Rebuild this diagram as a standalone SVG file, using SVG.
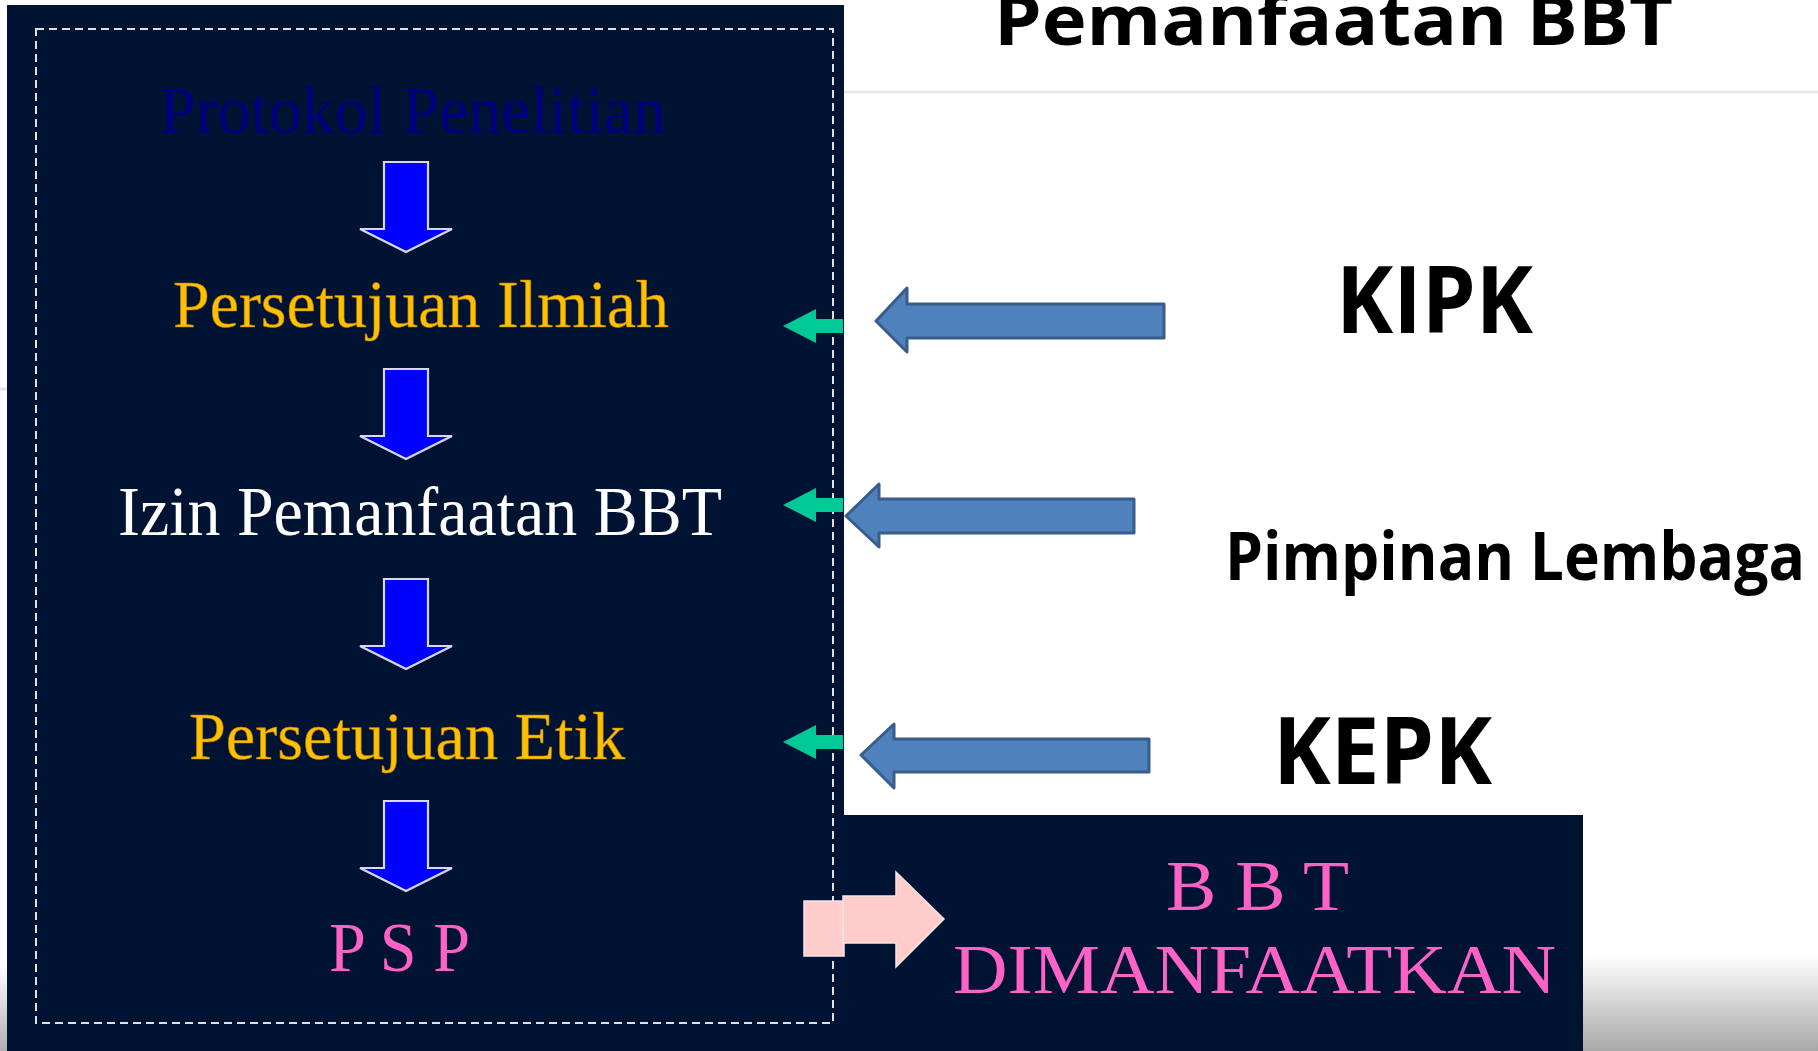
<svg xmlns="http://www.w3.org/2000/svg" width="1818" height="1051" viewBox="0 0 1818 1051">
<defs>
<style>
.serif{font-family:"Liberation Serif","Times New Roman",serif;}
.sans{font-family:"Open Sans","Noto Sans","Liberation Sans",sans-serif;font-weight:bold;fill:#000;}
.gold{fill:#ffc000;stroke:#b07800;stroke-width:0.6;}
.white{fill:#ffffff;}
.pink{fill:#ff62c6;}
.navytxt{fill:#00007e;}
.down{fill:#0000ff;stroke:#d8d8e8;stroke-width:2.2;stroke-linejoin:miter;}
.teal{fill:#00c896;}
.bluearrow{fill:#4f81bd;stroke:#385d8a;stroke-width:3;stroke-linejoin:round;}
.pinkarrow{fill:#ffcccc;stroke:#f4e4e4;stroke-width:1.5;}
</style>
<path id="downArrow" d="M384,0 V67 H360 L406,90 L452,67 H428 V0 Z"/>
<linearGradient id="gBR" x1="0" y1="0" x2="0" y2="1">
<stop offset="0" stop-color="#ffffff"/>
<stop offset="1" stop-color="#a8a8a8"/>
</linearGradient>
<linearGradient id="gBL" x1="0" y1="0" x2="0" y2="1">
<stop offset="0" stop-color="#ffffff"/>
<stop offset="1" stop-color="#b0b0b0"/>
</linearGradient>
</defs>
<rect x="0" y="0" width="1818" height="1051" fill="#ffffff"/>
<rect x="1583" y="955" width="235" height="96" fill="url(#gBR)"/>
<rect x="0" y="965" width="7" height="86" fill="url(#gBL)"/>
<line x1="0" y1="389" x2="7" y2="389" stroke="#e4e4e4" stroke-width="3"/>
<line x1="844" y1="92" x2="1818" y2="92" stroke="#e8e8e8" stroke-width="3"/>

<g id="panel-left">
<rect x="7" y="5" width="837" height="1046" fill="#011333"/>
<rect x="36" y="29" width="797" height="994" fill="none" stroke="#e0e0e0" stroke-width="2" stroke-dasharray="8 5"/>
</g>
<g id="panel-bbt">
<rect x="843" y="815" width="740" height="236" fill="#011333"/>
</g>

<g id="title">
<text class="sans" x="994" y="45" font-size="70" textLength="679" lengthAdjust="spacingAndGlyphs">Pemanfaatan BBT</text>
</g>

<g id="node-protokol">
<text class="serif navytxt" x="159" y="133" font-size="68" textLength="507" lengthAdjust="spacingAndGlyphs">Protokol Penelitian</text>
</g>
<g id="node-ilmiah">
<text class="serif gold" x="173" y="327" font-size="68" textLength="496" lengthAdjust="spacingAndGlyphs">Persetujuan Ilmiah</text>
</g>
<g id="node-izin">
<text class="serif white" x="118" y="535" font-size="69" textLength="604" lengthAdjust="spacingAndGlyphs">Izin Pemanfaatan BBT</text>
</g>
<g id="node-etik">
<text class="serif gold" x="189" y="759" font-size="68" textLength="436" lengthAdjust="spacingAndGlyphs">Persetujuan Etik</text>
</g>
<g id="node-psp">
<text class="serif pink" x="329" y="971" font-size="69" textLength="141" lengthAdjust="spacingAndGlyphs">P S P</text>
</g>
<g id="node-bbt">
<text class="serif pink" x="1166" y="910" font-size="71" textLength="183" lengthAdjust="spacingAndGlyphs">B B T</text>
<text class="serif pink" x="953" y="993" font-size="70" textLength="603" lengthAdjust="spacingAndGlyphs">DIMANFAATKAN</text>
</g>
<g id="node-kipk">
<text class="sans" x="1336" y="333" font-size="94" textLength="197" lengthAdjust="spacingAndGlyphs">KIPK</text>
</g>
<g id="node-pimpinan">
<text class="sans" x="1225" y="580" font-size="66" textLength="580" lengthAdjust="spacingAndGlyphs">Pimpinan Lembaga</text>
</g>
<g id="node-kepk">
<text class="sans" x="1273" y="784" font-size="94" textLength="219" lengthAdjust="spacingAndGlyphs">KEPK</text>
</g>

<g id="connectors">
<use href="#downArrow" class="down" transform="translate(0,162)"/>
<use href="#downArrow" class="down" transform="translate(0,369)"/>
<use href="#downArrow" class="down" transform="translate(0,579)"/>
<use href="#downArrow" class="down" transform="translate(0,801)"/>

<polygon class="teal" points="783,326 816,309 816,319 843,319 843,333 816,333 816,343"/>
<polygon class="teal" points="783,505 816,488 816,498 843,498 843,512 816,512 816,522"/>
<polygon class="teal" points="783,742 816,725 816,735 843,735 843,749 816,749 816,759"/>

<polygon class="bluearrow" points="876,321 907,288 907,304 1164,304 1164,338 907,338 907,352"/>
<polygon class="bluearrow" points="846,516 879,484 879,499 1134,499 1134,533 879,533 879,547"/>
<polygon class="bluearrow" points="861,755 894,724 894,739 1149,739 1149,772 894,772 894,788"/>

<rect class="pinkarrow" x="804" y="901" width="40" height="55"/>
<polygon class="pinkarrow" points="843,896 896,896 896,872 944,919 896,967 896,943 843,943"/>
</g>
</svg>
